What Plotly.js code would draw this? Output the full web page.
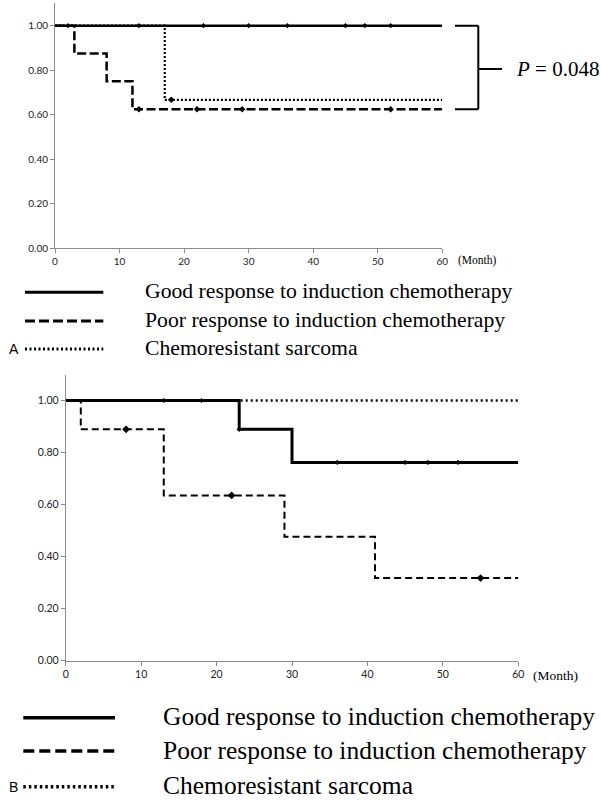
<!DOCTYPE html>
<html>
<head>
<meta charset="utf-8">
<script src="https://cdn.plot.ly/plotly-3.0.1.min.js"></script>
<style>html,body{margin:0;padding:0;background:#fff;}#chart{width:601px;height:800px;}</style>
</head>
<body>
<div id="chart"></div>
<script>
// ---------- Data ----------
// Panel A
const goodA_t = [0, 60];
const goodA_s = [1.0, 1.0];
const goodA_ct = [2, 13, 23, 30, 36, 45, 48, 52];
const goodA_cs = [1.0, 1.0, 1.0, 1.0, 1.0, 1.0, 1.0, 1.0];

const poorA_t = [0, 3, 8, 12, 60];
const poorA_s = [1.0, 0.875, 0.75, 0.625, 0.625];
const poorA_ct = [13, 22, 29, 52];
const poorA_cs = [0.625, 0.625, 0.625, 0.625];

const chemoA_t = [0, 17, 60];
const chemoA_s = [1.0, 0.667, 0.667];
const chemoA_ct = [18];
const chemoA_cs = [0.667];

// Panel B
const goodB_t = [0, 23, 30, 60];
const goodB_s = [1.0, 0.889, 0.762, 0.762];
const goodB_ct = [13, 23, 36, 45, 48, 52];
const goodB_cs = [1.0, 0.889, 0.762, 0.762, 0.762, 0.762];

const poorB_t = [0, 2, 13, 29, 41, 60];
const poorB_s = [1.0, 0.889, 0.635, 0.476, 0.317, 0.317];
const poorB_ct = [8, 22, 55];
const poorB_cs = [0.889, 0.635, 0.317];

const chemoB_t = [0, 60];
const chemoB_s = [1.0, 1.0];
const chemoB_ct = [18];
const chemoB_cs = [1.0];

const xTicks = [0, 10, 20, 30, 40, 50, 60];
const yTicks = [0, 0.2, 0.4, 0.6, 0.8, 1.0];
const legendLabels = ["Good response to induction chemotherapy",
                      "Poor response to induction chemotherapy",
                      "Chemoresistant sarcoma"];
const pText = "<i>P</i> = 0.048";
const unitText = "(Month)";
const panelLabels = ["A", "B"];

// ---------- Helpers ----------
const W = 601, H = 800;
const px = v => v / W;
const py = v => 1 - v / H;

function stepTrace(t, s, xa, ya, width, dash) {
  return {x: t, y: s, xaxis: xa, yaxis: ya, mode: 'lines', type: 'scatter',
          line: {shape: 'hv', color: '#000', width: width, dash: dash},
          hoverinfo: 'skip', showlegend: false};
}
function censorTrace(t, s, xa, ya, size) {
  return {x: t, y: s, xaxis: xa, yaxis: ya, mode: 'markers', type: 'scatter',
          marker: {symbol: 'diamond', size: size, color: '#000'},
          cliponaxis: false, hoverinfo: 'skip', showlegend: false};
}

const traces = [
  stepTrace(chemoA_t, chemoA_s, 'x', 'y', 2.2, '2px,2px'),
  stepTrace(poorA_t, poorA_s, 'x', 'y', 2.5, '9px,3.5px'),
  stepTrace(goodA_t, goodA_s, 'x', 'y', 2.5, 'solid'),
  censorTrace(chemoA_ct, chemoA_cs, 'x', 'y', 5),
  censorTrace(poorA_ct, poorA_cs, 'x', 'y', 5),
  censorTrace(goodA_ct, goodA_cs, 'x', 'y', 4),
  stepTrace(chemoB_t, chemoB_s, 'x2', 'y2', 2.4, '2px,3px'),
  stepTrace(poorB_t, poorB_s, 'x2', 'y2', 2, '7px,4px'),
  stepTrace(goodB_t, goodB_s, 'x2', 'y2', 3, 'solid'),
  censorTrace(chemoB_ct, chemoB_cs, 'x2', 'y2', 4),
  censorTrace(poorB_ct, poorB_cs, 'x2', 'y2', 6),
  censorTrace(goodB_ct, goodB_cs, 'x2', 'y2', 4)
];

const tickFont = {family: 'Lato, "Open Sans", sans-serif', size: 10, color: '#222'};
const serif = '"Liberation Serif", "Times New Roman", serif';

function xAxis(domain, anchor, fontSize) {
  return {domain: domain, anchor: anchor, range: [0, 60], tickvals: xTicks,
          ticktext: xTicks.map(String), showline: true, linecolor: '#8a8a8a', linewidth: 1,
          ticks: 'outside', ticklen: 4, tickcolor: '#8a8a8a', showgrid: false, zeroline: false,
          tickfont: Object.assign({}, tickFont, {size: fontSize}), fixedrange: true};
}
function yAxis(domain, anchor, fontSize) {
  return {domain: domain, anchor: anchor, range: [0, 1.1], tickvals: yTicks,
          ticktext: yTicks.map(v => v.toFixed(2)), showline: true, linecolor: '#8a8a8a', linewidth: 1,
          ticks: 'outside', ticklen: 4, tickcolor: '#8a8a8a', showgrid: false, zeroline: false,
          tickfont: Object.assign({}, tickFont, {size: fontSize}), fixedrange: true};
}

const shapes = [];
const annotations = [];

const bx0 = px(455), bx1 = px(478.3), bx2 = px(502);
shapes.push({type: 'line', xref: 'paper', yref: 'y', x0: bx0, x1: bx1, y0: goodA_s[0], y1: goodA_s[0], line: {color: '#000', width: 2}});
shapes.push({type: 'line', xref: 'paper', yref: 'y', x0: bx0, x1: bx1, y0: poorA_s[3], y1: poorA_s[3], line: {color: '#000', width: 2}});
shapes.push({type: 'line', xref: 'paper', yref: 'y', x0: bx1, x1: bx1, y0: poorA_s[3], y1: goodA_s[0], line: {color: '#000', width: 2}});
shapes.push({type: 'line', xref: 'paper', yref: 'y', x0: bx1, x1: bx2, y0: 0.805, y1: 0.805, line: {color: '#000', width: 2}});
annotations.push({xref: 'paper', yref: 'y', x: px(514), y: 0.805, xanchor: 'left', yanchor: 'middle',
                  text: pText, showarrow: false, font: {family: serif, size: 21, color: '#000'}});

annotations.push({xref: 'paper', yref: 'paper', x: px(455.5), y: py(261), xanchor: 'left', yanchor: 'middle',
                  text: unitText, showarrow: false, font: {family: serif, size: 11.5, color: '#000'}});
annotations.push({xref: 'paper', yref: 'paper', x: px(530.5), y: py(675.5), xanchor: 'left', yanchor: 'middle',
                  text: unitText, showarrow: false, font: {family: serif, size: 13.5, color: '#000'}});

function legend(yRows, lx0, lx1, textX, fontSize, widths, dashes) {
  for (let i = 0; i < 3; i++) {
    shapes.push({type: 'line', xref: 'paper', yref: 'paper', x0: px(lx0), x1: px(lx1),
                 y0: py(yRows[i]), y1: py(yRows[i]), line: {color: '#000', width: widths[i], dash: dashes[i]}});
    annotations.push({xref: 'paper', yref: 'paper', x: px(textX), y: py(yRows[i] - 1), xanchor: 'left', yanchor: 'middle',
                      text: legendLabels[i], showarrow: false, font: {family: serif, size: fontSize, color: '#000'}});
  }
}
legend([292.3, 321, 349], 25, 103.3, 143, 21.7, [3, 3, 3], ['solid', '10px,4px', '2px,2.5px']);
legend([717.7, 751, 786.7], 23.3, 115, 161, 25.5, [3.5, 3.5, 3.5], ['solid', '11px,5px', '2.5px,3px']);

annotations.push({xref: 'paper', yref: 'paper', x: px(7), y: py(349), xanchor: 'left', yanchor: 'middle',
                  text: panelLabels[0], showarrow: false, font: {family: '"Liberation Sans", Arial, sans-serif', size: 14, color: '#000'}});
annotations.push({xref: 'paper', yref: 'paper', x: px(7), y: py(786.5), xanchor: 'left', yanchor: 'middle',
                  text: panelLabels[1], showarrow: false, font: {family: '"Liberation Sans", Arial, sans-serif', size: 14, color: '#000'}});

const layout = {
  width: W, height: H,
  margin: {l: 0, r: 0, t: 0, b: 0},
  paper_bgcolor: '#fff', plot_bgcolor: '#fff',
  showlegend: false,
  xaxis: xAxis([px(55), px(442.3)], 'y', 10),
  yaxis: yAxis([py(248.3), py(3.4)], 'x', 10),
  xaxis2: xAxis([px(65.7), px(518.3)], 'y2', 10.5),
  yaxis2: yAxis([py(660.5), py(374.5)], 'x2', 10.5),
  shapes: shapes,
  annotations: annotations
};

Plotly.newPlot('chart', traces, layout, {staticPlot: true, displayModeBar: false});
</script>
</body>
</html>
